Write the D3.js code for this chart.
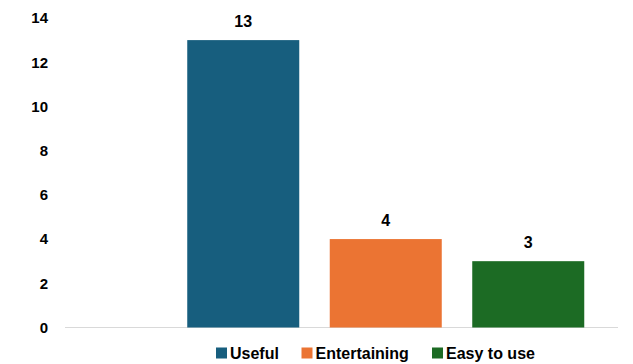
<!DOCTYPE html>
<html>
<head>
<meta charset="utf-8">
<script src="https://cdn.jsdelivr.net/npm/d3@7"></script>
<style>
  html, body { margin: 0; padding: 0; background: #fff; }
  svg { display: block; font-family: "Liberation Sans", Arial, sans-serif; }
</style>
</head>
<body>
<svg id="chart" width="633" height="364"></svg>
<script>
// Responses per category
const categories = ["Useful", "Entertaining", "Easy to use"];
const values = [13, 4, 3];
const colors = ["#175e7e", "#eb7433", "#1c6b24"];
const yTicks = [0, 2, 4, 6, 8, 10, 12, 14];

const svg = d3.select("#chart");

const plot = { left: 65, right: 618, top: 18, bottom: 327.5 };

const y = d3.scaleLinear().domain([0, 14]).range([plot.bottom, plot.top]);

const x = d3.scaleBand()
  .domain(categories)
  .range([172, 599.5])
  .paddingInner(0.214)
  .paddingOuter(0.107);

// Baseline
svg.append("line")
  .attr("x1", plot.left).attr("x2", plot.right)
  .attr("y1", y(0)).attr("y2", y(0))
  .attr("stroke", "#d9d9d9").attr("stroke-width", 1.2);

// Y axis labels (no axis line or tick marks)
const yAxis = d3.axisLeft(y).tickValues(yTicks).tickSize(0).tickPadding(0);
const yg = svg.append("g").attr("transform", "translate(48,0)").call(yAxis);
yg.select(".domain").remove();
yg.selectAll("text")
  .attr("font-size", 15).attr("font-weight", "bold").attr("fill", "#000")
  .attr("font-family", "Liberation Sans, Arial, sans-serif");

// Bars
svg.selectAll("rect.bar")
  .data(categories)
  .join("rect")
  .attr("class", "bar")
  .attr("x", d => x(d))
  .attr("width", x.bandwidth())
  .attr("y", (d, i) => y(values[i]))
  .attr("height", (d, i) => y(0) - y(values[i]))
  .attr("fill", (d, i) => colors[i]);

// Value labels
svg.selectAll("text.val")
  .data(categories)
  .join("text")
  .attr("class", "val")
  .attr("x", d => x(d) + x.bandwidth() / 2)
  .attr("y", (d, i) => y(values[i]) - 13)
  .attr("text-anchor", "middle")
  .attr("font-size", 16).attr("font-weight", "bold").attr("fill", "#000")
  .text((d, i) => values[i]);

// Legend
const legendX = [216, 301.5, 432];
const legend = svg.append("g");
categories.forEach((c, i) => {
  const g = legend.append("g").attr("transform", `translate(${legendX[i]},353)`);
  g.append("rect").attr("x", 0).attr("y", -5.5).attr("width", 11).attr("height", 11)
    .attr("fill", colors[i]);
  g.append("text").attr("x", 14).attr("y", 0).attr("dy", "0.36em")
    .attr("font-size", 16).attr("font-weight", "bold").attr("fill", "#000")
    .text(c);
});
</script>
</body>
</html>
